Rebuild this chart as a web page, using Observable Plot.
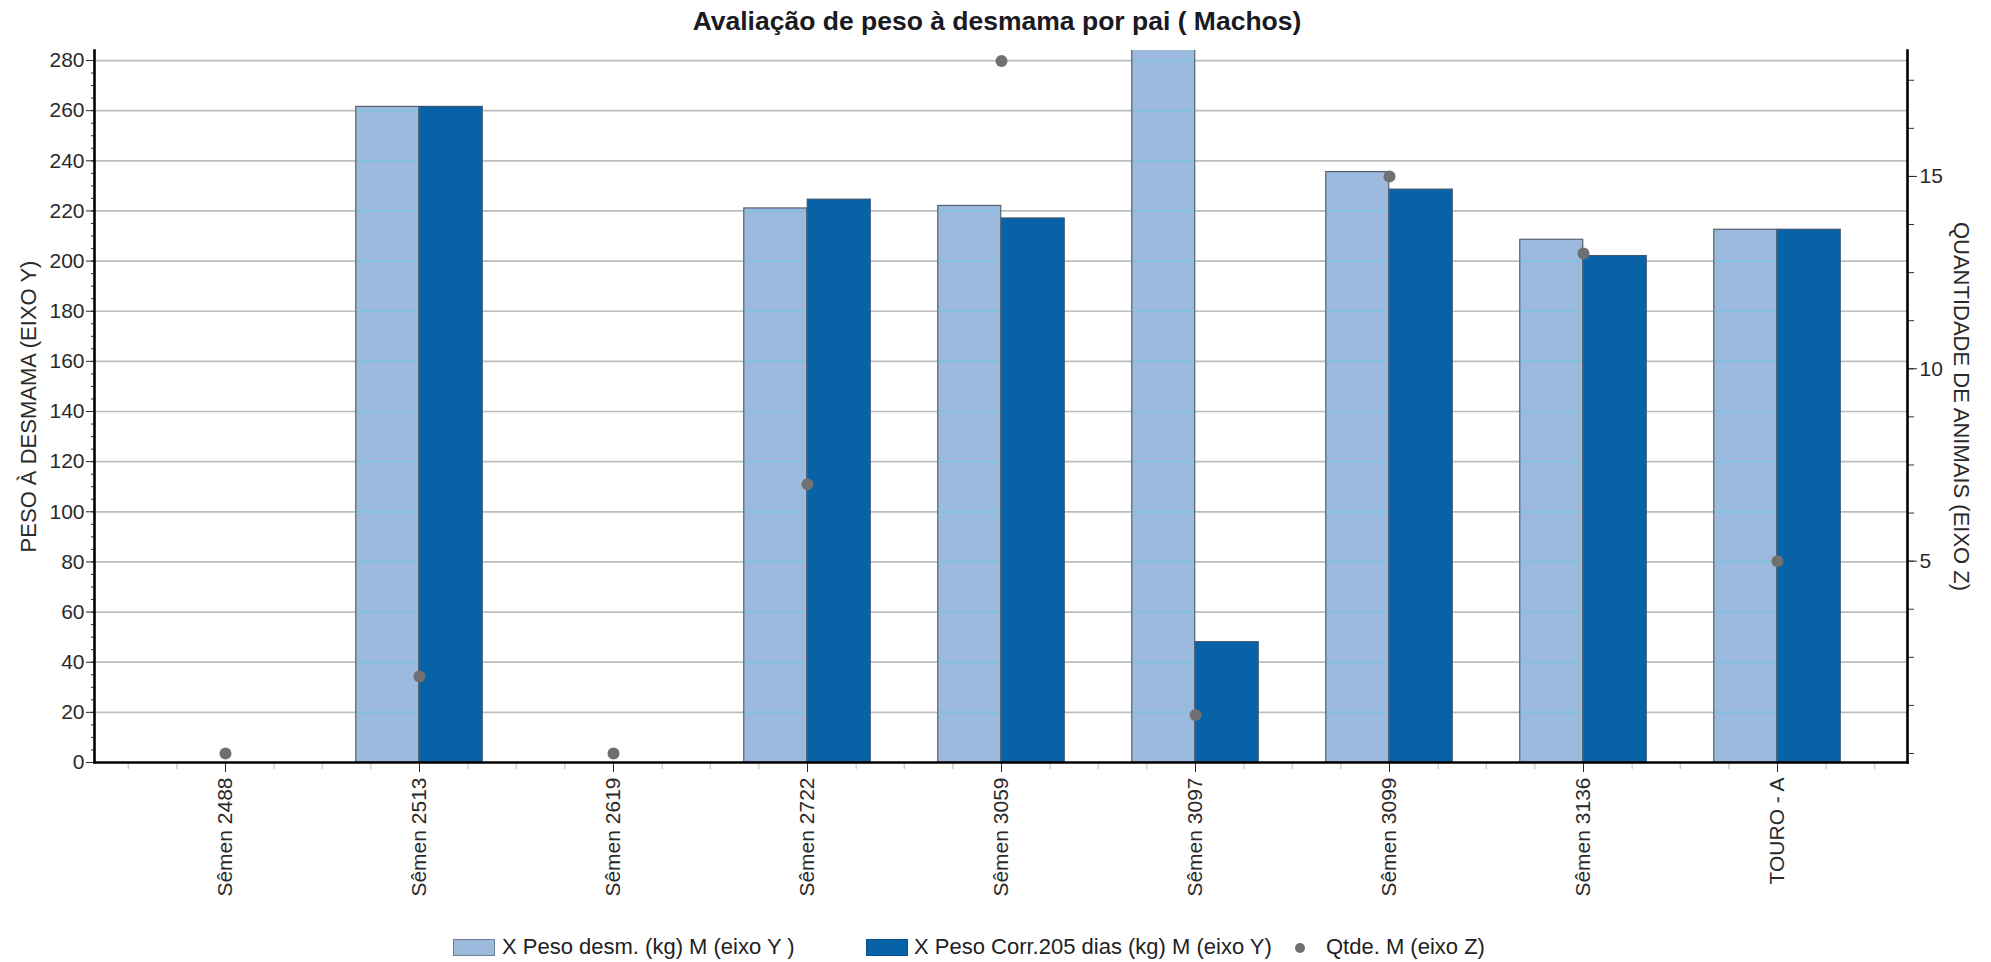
<!DOCTYPE html>
<html>
<head>
<meta charset="utf-8">
<script src="https://cdn.jsdelivr.net/npm/d3@7"></script>
<script src="https://cdn.jsdelivr.net/npm/@observablehq/plot@0.6"></script>
<style>
  html, body { margin: 0; padding: 0; background: #fff; }
  #wrap { position: relative; width: 1991px; height: 962px; font-family: "Liberation Sans", Arial, sans-serif; color: #222; }
  #title { position: absolute; left: 0; top: 6px; width: 1994px; text-align: center; font-weight: bold; font-size: 26.5px; line-height: 30px; color: #1a1a22; }
  #chart { position: absolute; left: 0; top: 0; }
  .leg { position: absolute; font-size: 22px; line-height: 22px; top: 936px; color: #222; white-space: nowrap; }
  .sw { position: absolute; top: 939px; height: 17px; width: 42px; box-sizing: border-box; }
</style>
</head>
<body>
<div id="wrap">
  <div id="chart"></div>
  <div id="title">Avaliação de peso à desmama por pai ( Machos)</div>
  <div class="sw" style="left:453px; background:#9cb9de; border:1px solid #6f7f92;"></div>
  <div class="leg" style="left:502px;">X Peso desm. (kg) M (eixo Y )</div>
  <div class="sw" style="left:866px; background:#0862a8; border:1px solid #0a4f86;"></div>
  <div class="leg" style="left:914px;">X Peso Corr.205 dias (kg) M (eixo Y)</div>
  <svg style="position:absolute; left:1293px; top:941px;" width="14" height="14"><circle cx="7" cy="7" r="5" fill="#707070"/></svg>
  <div class="leg" style="left:1326px;">Qtde. M (eixo Z)</div>
</div>
<script>
// ---- data ----
const categories = ["Sêmen 2488", "Sêmen 2513", "Sêmen 2619", "Sêmen 2722", "Sêmen 3059", "Sêmen 3097", "Sêmen 3099", "Sêmen 3136", "TOURO - A"];
const pesoDesm = [null, 261.5, null, 221, 222, 300, 235.5, 208.5, 212.5];
const pesoCorr = [null, 261.5, null, 224.5, 217, 48, 228.5, 202, 212.5];
const qtde = [0, 2, 0, 7, 18, 1, 15, 13, 5];
const yTicks = [0, 20, 40, 60, 80, 100, 120, 140, 160, 180, 200, 220, 240, 260, 280];
const zTicks = [5, 10, 15];

// ---- layout ----
const W = 1991, H = 962;
const mL = 94, mR = 84, mT = 50, mB = 200;
const padOuter = 0.16;
const step = (W - mL - mR) / (categories.length + 2 * padOuter);
const half = step / 2;
const barW = 63.5;

// secondary (Z) axis mapped onto the Y scale
const zToY = z => 3.59 + 15.345 * z;
const yToZ = y => (y - 3.59) / 15.345;

const rows = categories.map((c, i) => ({cat: c, desm: pesoDesm[i], corr: pesoCorr[i], q: qtde[i]}));
const lightRows = rows.filter(d => d.desm != null);
const darkRows = rows.filter(d => d.corr != null);
const stripes = lightRows.flatMap(d => yTicks.filter(g => g > 0 && g < d.desm).map(g => ({cat: d.cat, g})));
const minorY = d3.range(0, 284, 5);
const minorZ = d3.range(0, 18, 1.25).map(zToY);

const chart = Plot.plot({
  width: W, height: H,
  marginLeft: mL, marginRight: mR, marginTop: mT, marginBottom: mB,
  style: {fontFamily: "'Liberation Sans', Arial, sans-serif", fontSize: "21px", color: "#2a2a2a", background: "transparent"},
  x: {domain: categories, paddingInner: 0, paddingOuter: padOuter, label: null},
  y: {domain: [0, 284], label: null},
  marks: [
    Plot.gridY(yTicks.filter(v => v > 0), {stroke: "#bdbdbd", strokeOpacity: 1, strokeWidth: 1.7}),
    Plot.barY(lightRows, {x: "cat", y: "desm", fill: "#9cb9de", stroke: "#56616e", strokeWidth: 1.2,
      insetLeft: half - barW, insetRight: half, clip: true}),
    Plot.tickY(stripes, {x: "cat", y: "g", stroke: "#7cc3dc", strokeWidth: 1.7,
      insetLeft: half - barW + 1, insetRight: half + 1}),
    Plot.barY(darkRows, {x: "cat", y: "corr", fill: "#0862a8", stroke: "#3d5670", strokeWidth: 1.2,
      insetLeft: half, insetRight: half - barW, clip: true}),
    // left axis
    Plot.axisY(minorY, {anchor: "left", tickSize: 3, tickFormat: () => "", label: null, stroke: "#333"}),
    Plot.axisY(yTicks, {anchor: "left", tickSize: 8, tickPadding: 2, label: null, fill: "#2a2a2a", fontSize: 21}),
    // right axis (Z)
    Plot.axisY(minorZ, {anchor: "right", tickSize: 6, tickFormat: () => "", label: null, stroke: "#333"}),
    Plot.axisY(zTicks.map(zToY), {anchor: "right", tickSize: 9, tickPadding: 3, label: null,
      tickFormat: y => String(Math.round(yToZ(y))), fill: "#2a2a2a", fontSize: 21}),
    // x axis
    Plot.axisX({tickSize: 7, dx: -half, tickFormat: () => "", label: null, stroke: "#b8b8b8"}),
    Plot.axisX({tickSize: 7, dx: -half / 2, tickFormat: () => "", label: null, stroke: "#b8b8b8"}),
    Plot.axisX({tickSize: 7, dx: half / 2, tickFormat: () => "", label: null, stroke: "#b8b8b8"}),
    Plot.axisX([categories[categories.length - 1]], {tickSize: 7, dx: half, tickFormat: () => "", label: null, stroke: "#b8b8b8"}),
    Plot.axisX({tickSize: 10, tickPadding: 5, tickRotate: -90, label: null, fill: "#2a2a2a", fontSize: 21}),
    // axis lines
    Plot.frame({anchor: "left", stroke: "#000", strokeWidth: 2.6}),
    Plot.frame({anchor: "right", stroke: "#000", strokeWidth: 2.6}),
    Plot.frame({anchor: "bottom", stroke: "#000", strokeWidth: 2.6}),
    // axis titles
    Plot.text(["PESO À DESMAMA (EIXO Y)"], {frameAnchor: "left", dx: -66, rotate: -90, textAnchor: "middle", lineAnchor: "middle", fontSize: 22, fill: "#2a2a2a"}),
    Plot.text(["QUANTIDADE DE ANIMAIS (EIXO Z)"], {frameAnchor: "right", dx: 54, rotate: 90, textAnchor: "middle", lineAnchor: "middle", fontSize: 22, fill: "#2a2a2a"}),
    // Z series dots
    Plot.dot(rows, {x: "cat", y: d => zToY(d.q), r: 6, fill: "#707070", stroke: "none"})
  ]
});
document.getElementById("chart").appendChild(chart);
</script>
</body>
</html>
